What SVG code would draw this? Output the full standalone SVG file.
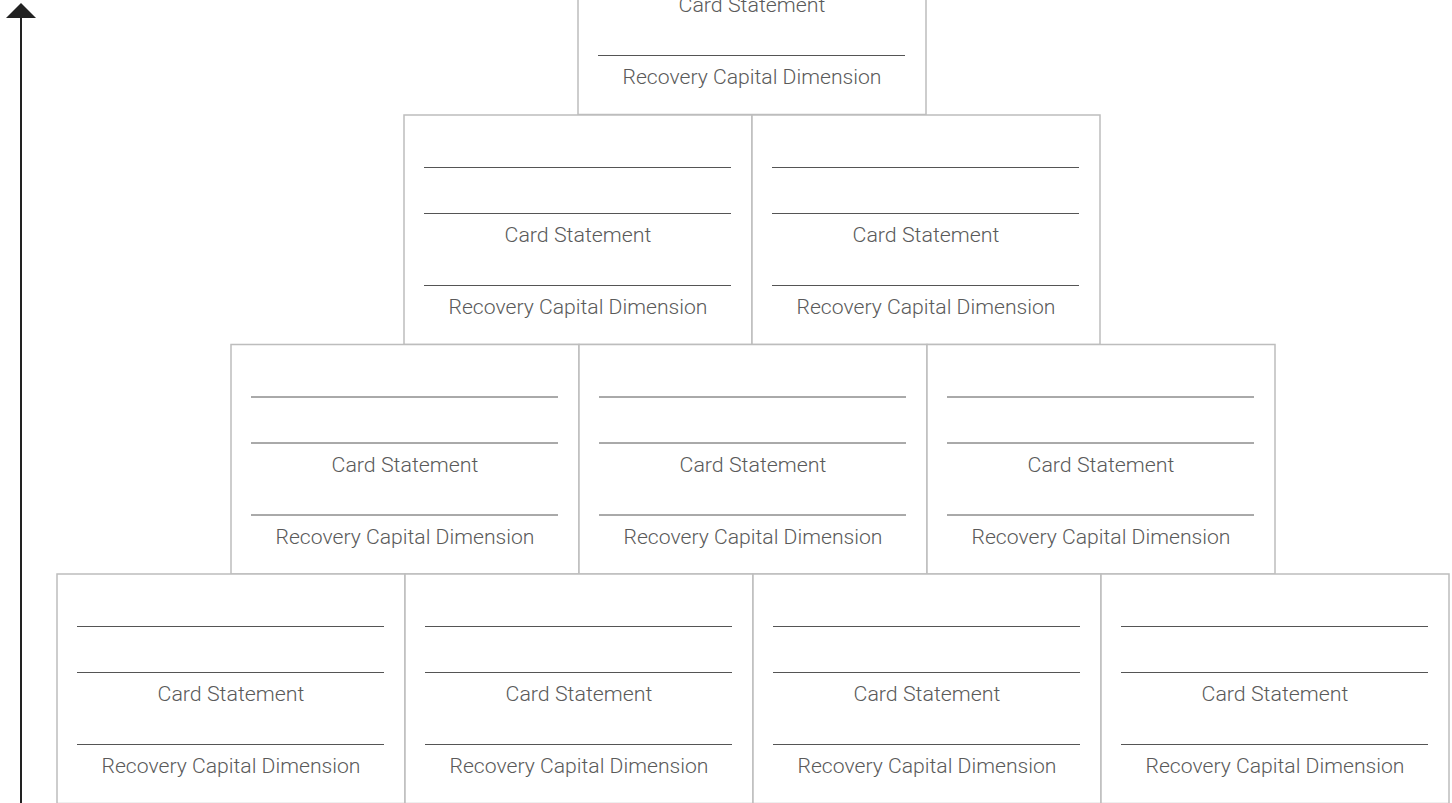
<svg xmlns="http://www.w3.org/2000/svg" width="1452" height="803" viewBox="0 0 1452 803">
<defs>
<style>
.box{fill:#fff;stroke:#bdbdbd;stroke-width:1.5}
.rule{stroke:#555;stroke-width:1}
.t{font-family:Roboto,"Liberation Sans",sans-serif;font-weight:300;font-size:21px;fill:#5a5a5a;text-anchor:middle}
.axis{stroke:#222;stroke-width:2}
</style>
<marker id="ah" markerWidth="30" markerHeight="16" refX="15" refY="15" viewBox="0 0 30 16" markerUnits="userSpaceOnUse" orient="auto-start-reverse">
<polygon points="0,15 15,0 30,15" fill="#222"/>
</marker>
<g id="card">
<rect class="box" x="0" y="0" width="348" height="229.5"/>
<line class="rule" x1="20" y1="52.5" x2="327" y2="52.5"/>
<line class="rule" x1="20" y1="98.5" x2="327" y2="98.5"/>
<text class="t" x="174" y="127" textLength="147" lengthAdjust="spacingAndGlyphs">Card Statement</text>
<line class="rule" x1="20" y1="170.5" x2="327" y2="170.5"/>
<text class="t" x="174" y="199" textLength="259" lengthAdjust="spacingAndGlyphs">Recovery Capital Dimension</text>
</g>
</defs>
<g id="connectors">
<line class="axis" x1="21" y1="803" x2="21" y2="18"/>
<polygon points="6,18 21,3 36,18" fill="#222"/>
</g>
<g id="n1"><use href="#card" x="578" y="-115"/></g>
<g id="n2"><use href="#card" x="404" y="115"/></g>
<g id="n3"><use href="#card" x="752" y="115"/></g>
<g id="n4"><use href="#card" x="231" y="344.5"/></g>
<g id="n5"><use href="#card" x="579" y="344.5"/></g>
<g id="n6"><use href="#card" x="927" y="344.5"/></g>
<g id="n7"><use href="#card" x="57" y="574"/></g>
<g id="n8"><use href="#card" x="405" y="574"/></g>
<g id="n9"><use href="#card" x="753" y="574"/></g>
<g id="n10"><use href="#card" x="1101" y="574"/></g>
</svg>
